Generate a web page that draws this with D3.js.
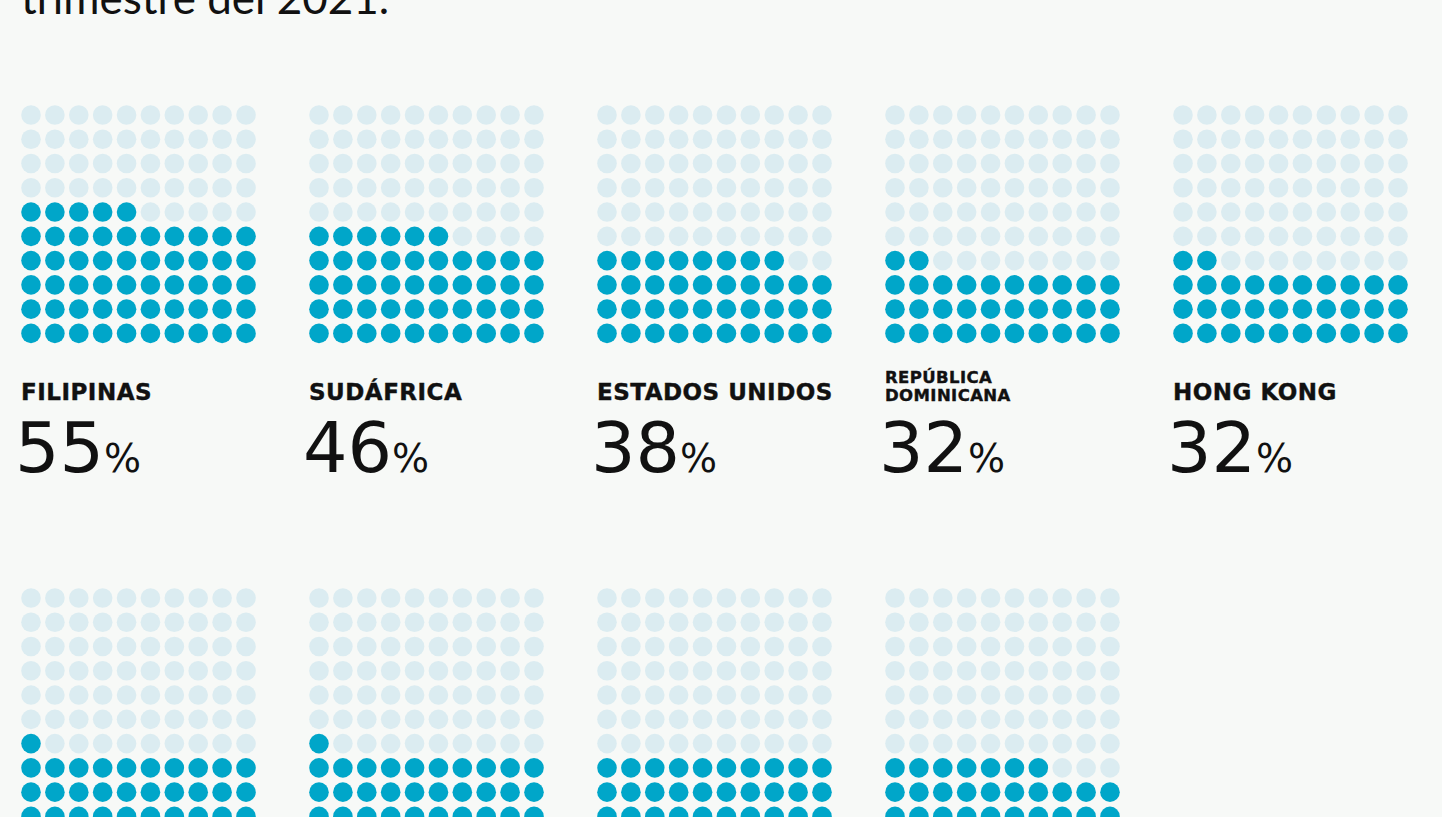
<!DOCTYPE html>
<html>
<head>
<meta charset="utf-8">
<script src="https://cdn.jsdelivr.net/npm/d3@7"></script>
<style>
  html, body { margin: 0; padding: 0; background: #f7f9f7; overflow: hidden; }
  svg { display: block; }
  .title { font-family: Lato, "Open Sans", sans-serif; font-size: 44px; fill: #111; }
  .name { font-family: "DejaVu Sans", sans-serif; font-weight: 700; fill: #111; stroke: #111; stroke-width: 0.4px; }
  .pct { font-family: "DejaVu Sans", sans-serif; font-weight: 400; fill: #111; }
</style>
</head>
<body>
<div id="chart"></div>
<script>
// Country names (one string per line), second row labels are cut off in the picture
const countries = [
  ["FILIPINAS"], ["SUDÁFRICA"], ["ESTADOS UNIDOS"], ["REPÚBLICA", "DOMINICANA"], ["HONG KONG"],
  [""], [""], [""], [""]
];
const values = [55, 46, 38, 32, 32, 31, 31, 30, 27];

const width = 1442, height = 817;
const colsPerRow = 5;
const panelW = 288, panelH = 483;
const originX = 31, originY = 115;

const svg = d3.select("#chart")
  .append("svg")
  .attr("width", width)
  .attr("height", height);

// Title (only its last line is in view)
svg.append("text")
  .attr("class", "title")
  .attr("x", 21)
  .attr("y", 14)
  .text("trimestre del 2021.");

// Dot grid scales (10 x 10)
const gx = d3.scaleLinear().domain([0, 9]).range([0, 215]);
const gy = d3.scaleLinear().domain([0, 9]).range([0, 218.4]);
const cells = d3.range(100);

const panels = svg.selectAll(".panel")
  .data(values)
  .enter()
  .append("g")
  .attr("class", "panel")
  .attr("transform", (d, i) => `translate(${originX + (i % colsPerRow) * panelW},${originY + Math.floor(i / colsPerRow) * panelH})`);

// dots fill from the bottom row upward, left to right
panels.selectAll("circle")
  .data(v => cells.map(k => ({ k, on: k < v })))
  .enter()
  .append("circle")
  .attr("cx", d => gx(d.k % 10))
  .attr("cy", d => gy(9 - Math.floor(d.k / 10)))
  .attr("r", 9.8)
  .attr("fill", d => d.on ? "#00a6c9" : "#dbecf1");

// Country labels
panels.each(function (v, i) {
  const g = d3.select(this);
  const lines = countries[i];
  if (lines.length === 1) {
    g.append("text")
      .attr("class", "name")
      .attr("x", -10)
      .attr("y", 285)
      .style("font-size", "23px")
      .style("letter-spacing", "0.5px")
      .text(lines[0]);
  } else {
    lines.forEach((t, j) => {
      g.append("text")
        .attr("class", "name")
        .attr("x", -10)
        .attr("y", 268 + j * 18)
        .style("font-size", "16.5px")
        .style("letter-spacing", "0.4px")
        .text(t);
    });
  }
  const num = g.append("text")
    .attr("class", "pct")
    .attr("x", -16)
    .attr("y", 357);
  num.append("tspan").style("font-size", "70px").text(v);
  num.append("tspan").style("font-size", "39px").text("%");
});
</script>
</body>
</html>
